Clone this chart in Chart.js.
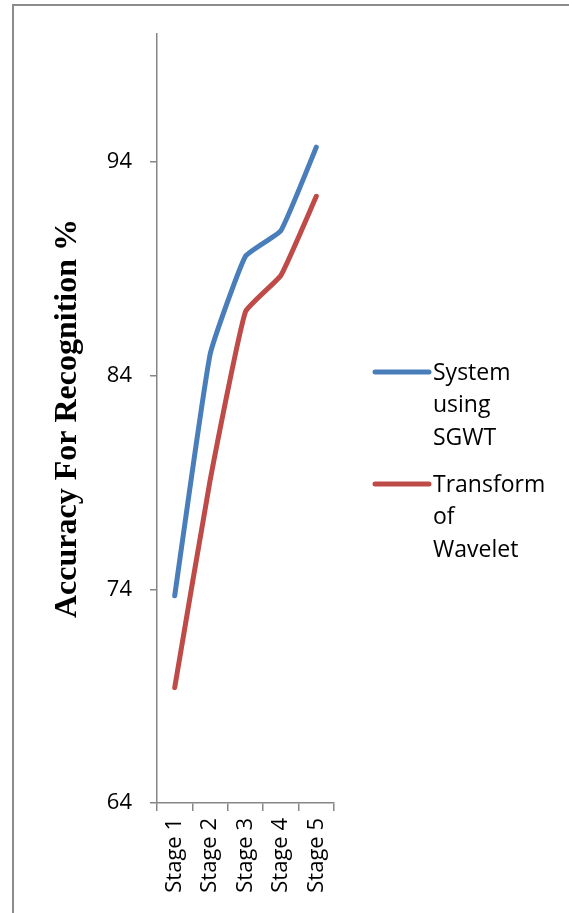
<!DOCTYPE html>
<html>
<head>
<meta charset="utf-8">
<script src="https://cdn.jsdelivr.net/npm/chart.js@4/dist/chart.umd.min.js"></script>
<style>
  html, body { margin: 0; padding: 0; background: #fff; }
  #wrap { position: relative; width: 569px; height: 913px; }
  canvas { display: block; }
</style>
</head>
<body>
<div id="wrap"><canvas id="c" width="569" height="913"></canvas></div>
<script>
const categories = ["Stage 1", "Stage 2", "Stage 3", "Stage 4", "Stage 5"];
const sgwtValues = [73.7, 85.0, 89.6, 90.8, 94.7];
const waveletValues = [69.4, 79.1, 87.0, 88.7, 92.4];
const seriesNames = [["System", "using", "SGWT"], ["Transform", "of", "Wavelet"]];
const yTicks = [64, 74, 84, 94];
const yTitle = "Accuracy For Recognition %";

const AXIS_COLOR = "#868686";
const tickFont = { family: "'Open Sans', 'Noto Sans', sans-serif", size: 22 };

const framePlugin = {
  id: 'frame',
  beforeDraw(chart) {
    const ctx = chart.ctx;
    ctx.save();
    ctx.fillStyle = '#fff';
    ctx.fillRect(0, 0, chart.width, chart.height);
    ctx.strokeStyle = '#8c8c8c';
    ctx.lineWidth = 2;
    ctx.beginPath();
    ctx.moveTo(13, 913);
    ctx.lineTo(13, 5);
    ctx.lineTo(569, 5);
    ctx.stroke();
    ctx.restore();
  }
};

const legendPlugin = {
  id: 'customLegend',
  afterDraw(chart) {
    const ctx = chart.ctx;
    ctx.save();
    ctx.font = "23px 'Open Sans', 'Noto Sans', sans-serif";
    ctx.textBaseline = 'middle';
    ctx.fillStyle = '#000';
    const starts = [372, 484];
    chart.data.datasets.forEach((ds, i) => {
      const y0 = starts[i];
      ctx.strokeStyle = ds.borderColor;
      ctx.lineWidth = 5;
      ctx.lineCap = 'round';
      ctx.beginPath();
      ctx.moveTo(375, y0);
      ctx.lineTo(429, y0);
      ctx.stroke();
      seriesNames[i].forEach((t, j) => {
        ctx.fillText(t, 433, y0 + 1 + j * 32.5);
      });
    });
    ctx.restore();
  }
};

new Chart(document.getElementById('c'), {
  type: 'line',
  data: {
    labels: categories,
    datasets: [
      { label: seriesNames[0].join(' '), data: sgwtValues, borderColor: '#4A7EBB', borderWidth: 5, pointRadius: 0, tension: 0.12, borderCapStyle: 'round', borderJoinStyle: 'round', fill: false },
      { label: seriesNames[1].join(' '), data: waveletValues, borderColor: '#BE4B48', borderWidth: 5, pointRadius: 0, tension: 0.12, borderCapStyle: 'round', borderJoinStyle: 'round', fill: false }
    ]
  },
  options: {
    responsive: false,
    animation: false,
    devicePixelRatio: 1,
    layout: { padding: { left: 0, right: 235, top: 34, bottom: 0 } },
    plugins: { legend: { display: false }, tooltip: { enabled: false } },
    scales: {
      x: {
        offset: true,
        grid: { display: true, drawOnChartArea: false, drawTicks: true, tickLength: 8, color: AXIS_COLOR, offset: true, lineWidth: 1.5 },
        border: { display: true, color: AXIS_COLOR, width: 1.5 },
        ticks: { color: '#000', font: tickFont, maxRotation: 90, minRotation: 90, padding: 7 },
        afterFit(scale) { scale.height = 110; }
      },
      y: {
        min: 64, max: 100,
        afterBuildTicks(scale) { scale.ticks = yTicks.map(v => ({ value: v })); },
        grid: { display: true, drawOnChartArea: false, drawTicks: true, tickLength: 7, color: AXIS_COLOR, lineWidth: 1.5 },
        border: { display: true, color: AXIS_COLOR, width: 1.5 },
        ticks: { color: '#000', font: tickFont, padding: 18 },
        title: { display: true, text: yTitle, color: '#000', font: { family: "'Liberation Serif', 'Times New Roman', serif", size: 32, weight: 'bold' }, padding: { top: 49, bottom: 0 } },
        afterFit(scale) { scale.width = 157; }
      }
    }
  },
  plugins: [framePlugin, legendPlugin]
});
</script>
</body>
</html>
